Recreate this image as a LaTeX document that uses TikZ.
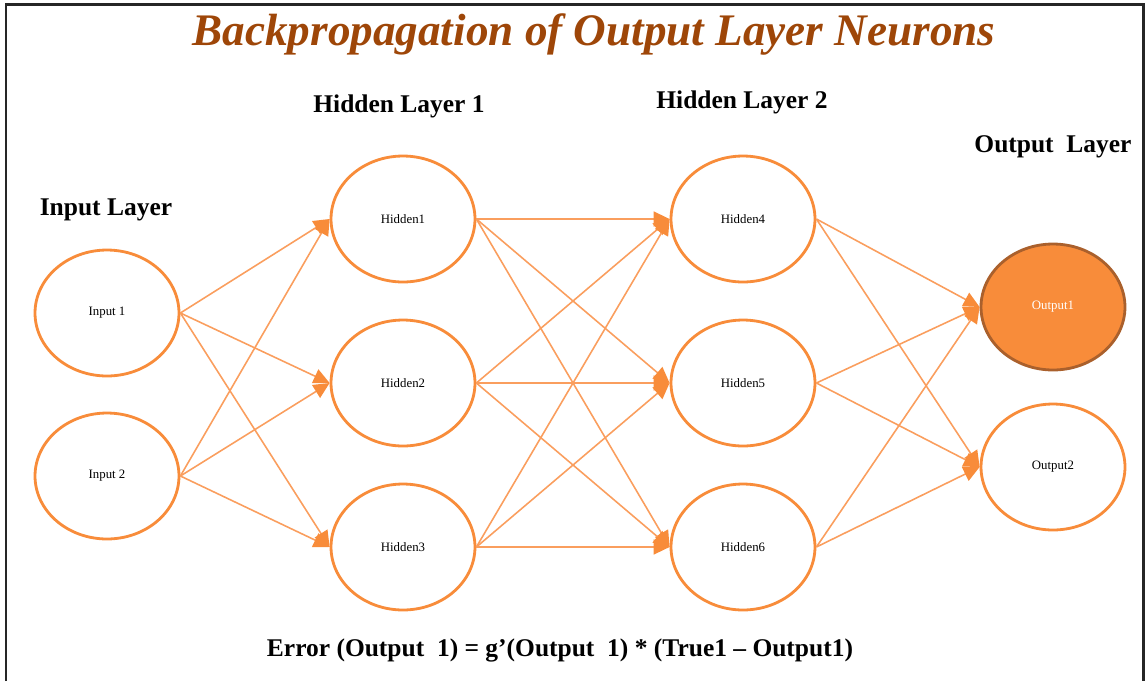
\documentclass[tikz,border=0pt]{standalone}
\usepackage{fontspec}
\setmainfont{Liberation Serif}
\usetikzlibrary{arrows.meta,shapes.geometric,positioning}
\definecolor{nnorange}{RGB}{248,140,58}
\definecolor{nnlink}{RGB}{250,158,94}
\definecolor{nnbrown}{RGB}{170,96,44}
\definecolor{titlebrown}{RGB}{158,70,8}

\begin{document}
\begin{tikzpicture}[
  x=0.02cm, y=-0.02cm,
  neuron/.style={ellipse, draw=nnorange, line width=1.6pt, fill=white, minimum width=2.88cm, minimum height=2.52cm, inner sep=0pt, font=\fontsize{7.3}{8}\selectfont},
  active/.style={neuron, draw=nnbrown, fill=nnorange, text=white},
  link/.style={-{Triangle[length=0.32cm, width=0.3cm, color=nnorange]}, nnlink, line width=0.9pt},
  layer/.style={font=\fontsize{14.5}{16}\selectfont\bfseries},
  title/.style={font=\fontsize{25.7}{28}\selectfont\bfseries\itshape, text=titlebrown}
]
\useasboundingbox (0,0) rectangle (1147,681);

% frame
\draw[line width=1.7pt, black!85] (6,681) -- (6,4) -- (1143,4) -- (1143,681);

% title and layer names
\node[title] (ttl) at (594,34) {Backpropagation of Output Layer Neurons};
\node[layer] (linput) at (106,210) {Input Layer};
\node[layer] (lhid1) at (399,106) {Hidden Layer 1};
\node[layer] (lhid2) at (742,102) {Hidden Layer 2};
\node[layer] (lout) at (1053,147) {Output\ \ Layer};

% neurons
\node[neuron] (in1) at (107,313) {Input 1};
\node[neuron] (in2) at (107,476) {Input 2};
\node[neuron] (h1) at (403,219) {Hidden1};
\node[neuron] (h2) at (403,383) {Hidden2};
\node[neuron] (h3) at (403,547) {Hidden3};
\node[neuron] (h4) at (743,219) {Hidden4};
\node[neuron] (h5) at (743,383) {Hidden5};
\node[neuron] (h6) at (743,547) {Hidden6};
\node[active] (out1) at (1053,307) {Output1};
\node[neuron] (out2) at (1053,467) {Output2};

% connections
\foreach \s in {in1,in2}
  \foreach \t in {h1,h2,h3}
    \draw[link] (\s.east) -- (\t.west);
\foreach \s in {h1,h2,h3}
  \foreach \t in {h4,h5,h6}
    \draw[link] (\s.east) -- (\t.west);
\foreach \s in {h4,h5,h6}
  \foreach \t in {out1,out2}
    \draw[link] (\s.east) -- (\t.west);

% error formula
\node[font=\fontsize{14.5}{17}\selectfont\bfseries] (err) at (560,650) {Error (Output\ \ 1) = g'(Output\ \ 1) * (True1 -- Output1)};
\end{tikzpicture}
\end{document}
